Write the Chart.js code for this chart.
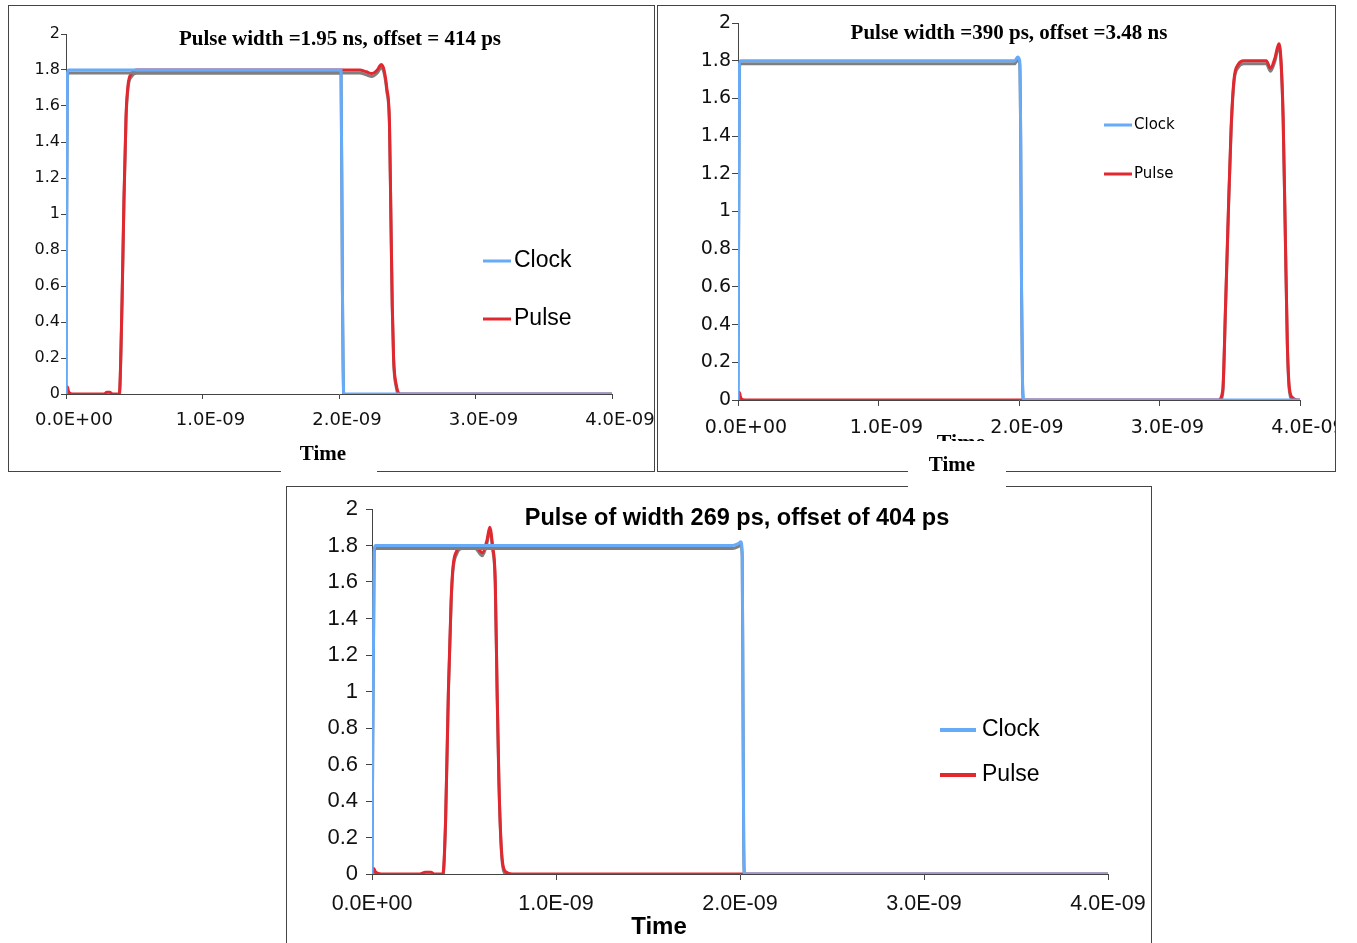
<!DOCTYPE html>
<html>
<head>
<meta charset="utf-8">
<script src="https://cdn.jsdelivr.net/npm/chart.js@4"></script>
<style>
  body { margin: 0; background: #fff; width: 1357px; height: 943px; overflow: hidden; position: relative; }
  .frame { position: absolute; border: 1px solid #444; box-sizing: border-box; }
  canvas { position: absolute; }
  .txt { position: absolute; white-space: nowrap; color: #000; }
  .serif { font-family: "Liberation Serif", "Times New Roman", serif; font-weight: bold; }
  .sans { font-family: "Liberation Sans", Arial, sans-serif; font-weight: bold; }
  .mask { position: absolute; background: #fff; }
</style>
</head>
<body>

<div class="frame" style="left:8px;top:5px;width:647px;height:467px"></div>
<div class="frame" style="left:657px;top:5px;width:679px;height:467px"></div>
<div class="frame" style="left:286px;top:486px;width:866px;height:480px"></div>

<canvas id="chart1" width="645" height="465" style="left:9px;top:6px"></canvas>
<canvas id="chart2" width="677" height="465" style="left:658px;top:6px"></canvas>
<canvas id="chart3" width="864" height="456" style="left:287px;top:487px"></canvas>

<div class="txt serif" style="left:90px;top:27px;width:500px;text-align:center;font-size:21px;line-height:22px">Pulse width =1.95 ns, offset = 414 ps</div>
<div class="txt serif" style="left:759px;top:21px;width:500px;text-align:center;font-size:21px;line-height:22px">Pulse width =390 ps, offset =3.48 ns</div>
<div class="txt sans" style="left:437px;top:505px;width:600px;text-align:center;font-size:23.5px;line-height:24px">Pulse of width 269 ps, offset of 404 ps</div>

<!-- axis titles -->
<div class="txt serif" style="left:911px;top:431px;width:100px;text-align:center;font-size:22px;line-height:22px">Time</div>
<div class="mask" style="left:281px;top:436px;width:96px;height:40px"></div>
<div class="mask" style="left:908px;top:441px;width:98px;height:52px"></div>
<div class="txt serif" style="left:273px;top:442px;width:100px;text-align:center;font-size:21px;line-height:22px">Time</div>
<div class="txt serif" style="left:902px;top:453px;width:100px;text-align:center;font-size:21px;line-height:22px">Time</div>
<div class="txt sans" style="left:609px;top:913px;width:100px;text-align:center;font-size:24px;line-height:26px">Time</div>

<script>
// times in ns, values in V

// top-left: pulse width 1.95 ns, offset 414 ps
const c1ClockT = [0, 0.01, 0.02, 2.0, 2.015, 2.025, 2.035, 4.0];
const c1ClockV = [0, 1.78, 1.8, 1.8, 1.8, 0.6, 0, 0];
const c1PulseT = [0, 0.01, 0.02, 0.05, 0.28, 0.3, 0.32, 0.34, 0.39, 0.41, 0.425, 0.44, 0.455, 0.48, 0.52, 2.15, 2.2, 2.24, 2.28, 2.31, 2.33, 2.35, 2.37, 2.38, 2.39, 2.4, 2.42, 2.45, 4.0];
const c1PulseV = [0, 0.04, 0.01, 0, 0, 0.01, 0.01, 0, 0, 0.5, 1.1, 1.55, 1.72, 1.78, 1.8, 1.8, 1.79, 1.78, 1.8, 1.83, 1.8, 1.7, 1.5, 1.0, 0.5, 0.2, 0.05, 0, 0];

// top-right: pulse width 390 ps, offset 3.48 ns
const c2ClockT = [0, 0.01, 0.02, 1.94, 1.97, 1.99, 2.005, 2.012, 2.018, 2.025, 2.035, 4.0];
const c2ClockV = [0, 1.78, 1.8, 1.8, 1.8, 1.82, 1.8, 1.4, 0.6, 0.1, 0, 0];
const c2PulseT = [0, 0.01, 0.02, 0.05, 3.42, 3.45, 3.47, 3.49, 3.51, 3.53, 3.56, 3.6, 3.76, 3.79, 3.82, 3.85, 3.865, 3.88, 3.895, 3.91, 3.925, 3.95, 3.98, 4.0];
const c2PulseV = [0, 0.04, 0.01, 0, 0, 0.05, 0.5, 1.0, 1.45, 1.7, 1.78, 1.8, 1.8, 1.76, 1.81, 1.89, 1.8, 1.5, 0.9, 0.3, 0.06, 0.01, 0, 0];

// bottom: pulse width 269 ps, offset 404 ps
const c3ClockT = [0, 0.012, 0.02, 1.96, 1.99, 2.005, 2.012, 2.016, 2.02, 2.025, 4.0];
const c3ClockV = [0, 1.78, 1.8, 1.8, 1.81, 1.82, 1.75, 1.0, 0.2, 0, 0];
const c3PulseT = [0, 0.01, 0.02, 0.05, 0.26, 0.29, 0.32, 0.34, 0.385, 0.4, 0.415, 0.43, 0.44, 0.46, 0.49, 0.56, 0.6, 0.625, 0.64, 0.655, 0.67, 0.68, 0.69, 0.7, 0.71, 0.73, 0.76, 4.0];
const c3PulseV = [0, 0.03, 0.01, 0, 0, 0.01, 0.01, 0, 0, 0.3, 1.0, 1.5, 1.68, 1.77, 1.8, 1.8, 1.76, 1.83, 1.9, 1.8, 1.6, 1.0, 0.5, 0.2, 0.06, 0.01, 0, 0];

const yTicks = { min: 0, max: 2, step: 0.2 };
const xTicks = { min: 0, max: 4, step: 1 };

const clockColor = '#66aaf8';
const pulseColor = '#e2272f';
const shadowColor = '#7f7f7f';
const axisColor = '#444';

function pts(t, v) {
    return t.map((x, i) => ({ x: x, y: v[i] }));
}

function sciLabel(ns) {
    if (ns === 0) return '0.0E+00';
    const s = (ns * 1e-9).toExponential(1).split('e');
    const e = parseInt(s[1], 10);
    return s[0] + 'E' + (e < 0 ? '-' : '+') + String(Math.abs(e)).padStart(2, '0');
}

// grey drop shadow under each trace, like the Excel line effect
const shadowPlugin = {
    id: 'lineShadow',
    beforeDatasetDraw(chart) {
        const ctx = chart.ctx;
        ctx.save();
        ctx.shadowColor = shadowColor;
        ctx.shadowOffsetX = 0;
        ctx.shadowOffsetY = 3;
        ctx.shadowBlur = 0;
    },
    afterDatasetDraw(chart) {
        chart.ctx.restore();
    }
};

// legend sitting inside the plot on the right
const sideLegend = {
    id: 'sideLegend',
    afterDraw(chart, args, o) {
        const ctx = chart.ctx;
        ctx.save();
        ctx.font = o.font;
        ctx.textBaseline = 'middle';
        ctx.lineCap = 'butt';
        chart.data.datasets.forEach((ds, i) => {
            const y = o.y + i * o.gap;
            ctx.strokeStyle = ds.borderColor;
            ctx.lineWidth = o.lineWidth;
            ctx.beginPath();
            ctx.moveTo(o.x, y);
            ctx.lineTo(o.x + o.len, y);
            ctx.stroke();
            ctx.fillStyle = '#000';
            ctx.fillText(ds.label, o.x + o.len + o.space, y);
        });
        ctx.restore();
    }
};

function makeChart(id, clockT, clockV, pulseT, pulseV, cfg) {
    return new Chart(document.getElementById(id).getContext('2d'), {
        type: 'line',
        data: {
            datasets: [
                { label: 'Clock', data: pts(clockT, clockV), borderColor: clockColor, borderWidth: cfg.lw, pointRadius: 0, cubicInterpolationMode: 'monotone' },
                { label: 'Pulse', data: pts(pulseT, pulseV), borderColor: pulseColor, borderWidth: cfg.lw, pointRadius: 0, cubicInterpolationMode: 'monotone' }
            ]
        },
        options: {
            responsive: false,
            animation: false,
            events: [],
            layout: { padding: { top: cfg.padTop, right: cfg.padRight, left: 0, bottom: 0 } },
            plugins: {
                legend: { display: false },
                tooltip: { enabled: false },
                sideLegend: cfg.legend
            },
            scales: {
                x: {
                    type: 'linear',
                    min: xTicks.min,
                    max: xTicks.max,
                    grid: { display: true, drawOnChartArea: false, drawTicks: true, tickLength: cfg.tick, color: axisColor },
                    border: { display: true, color: axisColor, width: 1 },
                    ticks: {
                        stepSize: xTicks.step,
                        maxRotation: 0,
                        autoSkip: false,
                        padding: cfg.xPad,
                        labelOffset: cfg.xOffset,
                        color: '#111',
                        font: { family: cfg.tickFont, size: cfg.xSize },
                        callback: v => sciLabel(v)
                    },
                    afterFit: s => { s.height = cfg.xHeight; s.paddingLeft = 0; s.paddingRight = 0; }
                },
                y: {
                    min: yTicks.min,
                    max: yTicks.max,
                    grid: { display: true, drawOnChartArea: false, drawTicks: true, tickLength: cfg.tick, color: axisColor },
                    border: { display: true, color: axisColor, width: 1 },
                    ticks: {
                        stepSize: yTicks.step,
                        padding: cfg.yPad,
                        color: '#111',
                        font: { family: cfg.tickFont, size: cfg.ySize },
                        callback: v => String(Math.round(v * 10) / 10)
                    },
                    afterFit: s => { s.width = cfg.yWidth; s.paddingTop = 0; s.paddingBottom = 0; }
                }
            }
        },
        plugins: [shadowPlugin, sideLegend]
    });
}

makeChart('chart1', c1ClockT, c1ClockV, c1PulseT, c1PulseV, {
    lw: 3, padTop: 28, padRight: 42, xHeight: 77, yWidth: 57,
    tick: 5, xPad: 11, yPad: 1, xOffset: 8,
    tickFont: '"DejaVu Sans", Verdana, sans-serif', xSize: 18, ySize: 16,
    legend: { x: 474, y: 255, gap: 58, len: 28, space: 3, lineWidth: 3, font: '23px "Liberation Sans", Arial, sans-serif' }
});

makeChart('chart2', c2ClockT, c2ClockV, c2PulseT, c2PulseV, {
    lw: 3, padTop: 17, padRight: 35, xHeight: 71, yWidth: 80,
    tick: 6, xPad: 11, yPad: 1, xOffset: 8,
    tickFont: '"DejaVu Sans", Verdana, sans-serif', xSize: 19, ySize: 19,
    legend: { x: 446, y: 119, gap: 49, len: 28, space: 2, lineWidth: 3, font: '15px "DejaVu Sans", Verdana, sans-serif' }
});

makeChart('chart3', c3ClockT, c3ClockV, c3PulseT, c3PulseV, {
    lw: 3, padTop: 22, padRight: 43, xHeight: 69, yWidth: 85,
    tick: 6, xPad: 11, yPad: 8, xOffset: 0,
    tickFont: '"Liberation Sans", Arial, sans-serif', xSize: 21.5, ySize: 22,
    legend: { x: 653, y: 243, gap: 45, len: 36, space: 6, lineWidth: 4, font: '23px "Liberation Sans", Arial, sans-serif' }
});
</script>
</body>
</html>
